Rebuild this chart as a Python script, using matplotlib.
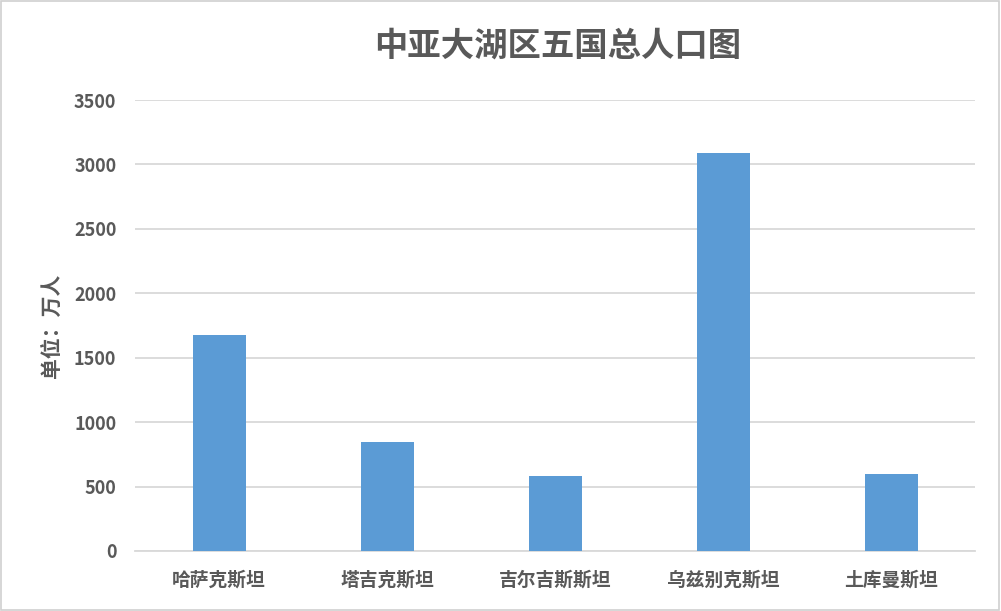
import matplotlib.pyplot as plt
from matplotlib.patches import Rectangle

plt.rcParams['font.family'] = ['Noto Sans CJK SC', 'DejaVu Sans']

countries = ['哈萨克斯坦', '塔吉克斯坦', '吉尔吉斯斯坦', '乌兹别克斯坦', '土库曼斯坦']
population = [1676, 846, 582, 3086, 598]
yticks = [0, 500, 1000, 1500, 2000, 2500, 3000, 3500]

text_color = '#595959'
grid_color = '#D9D9D9'

fig = plt.figure(figsize=(10.01, 6.11), dpi=100)
ax = fig.add_axes([0.1349, 0.0982, 0.8392, 0.7381])

x = range(len(countries))
ax.bar(x, population, width=0.315, color='#5B9BD5', zorder=3)

ax.set_xlim(-0.5, len(countries) - 0.5)
ax.set_ylim(0, 3500)
ax.set_yticks(yticks)
ax.set_xticks(list(x))
ax.set_xticklabels(countries)

ax.grid(axis='y', color=grid_color, linewidth=1.3, zorder=0)
for s in ['top', 'right', 'left']:
    ax.spines[s].set_visible(False)
ax.spines['bottom'].set_color(grid_color)
ax.spines['bottom'].set_linewidth(1.3)

ax.tick_params(axis='both', length=0, colors=text_color)
ax.tick_params(axis='y', pad=13.5)
ax.tick_params(axis='x', pad=14)
for lab in ax.get_yticklabels():
    lab.set_fontsize(13)
    lab.set_fontweight('bold')
for lab in ax.get_xticklabels():
    lab.set_fontsize(13.5)
    lab.set_fontweight('bold')

ax.set_ylabel('单位：万人', fontsize=15, fontweight='bold', color=text_color, labelpad=9)

fig.text(0.557, 0.925, '中亚大湖区五国总人口图', ha='center', va='center',
         fontsize=24, fontweight='bold', color=text_color)

# chart border
fig.patches.append(Rectangle((0.001, 0.002), 0.997, 0.996, transform=fig.transFigure,
                             fill=False, edgecolor='#D0D0D0', linewidth=1.2))

fig.savefig('out.png', dpi=100)
